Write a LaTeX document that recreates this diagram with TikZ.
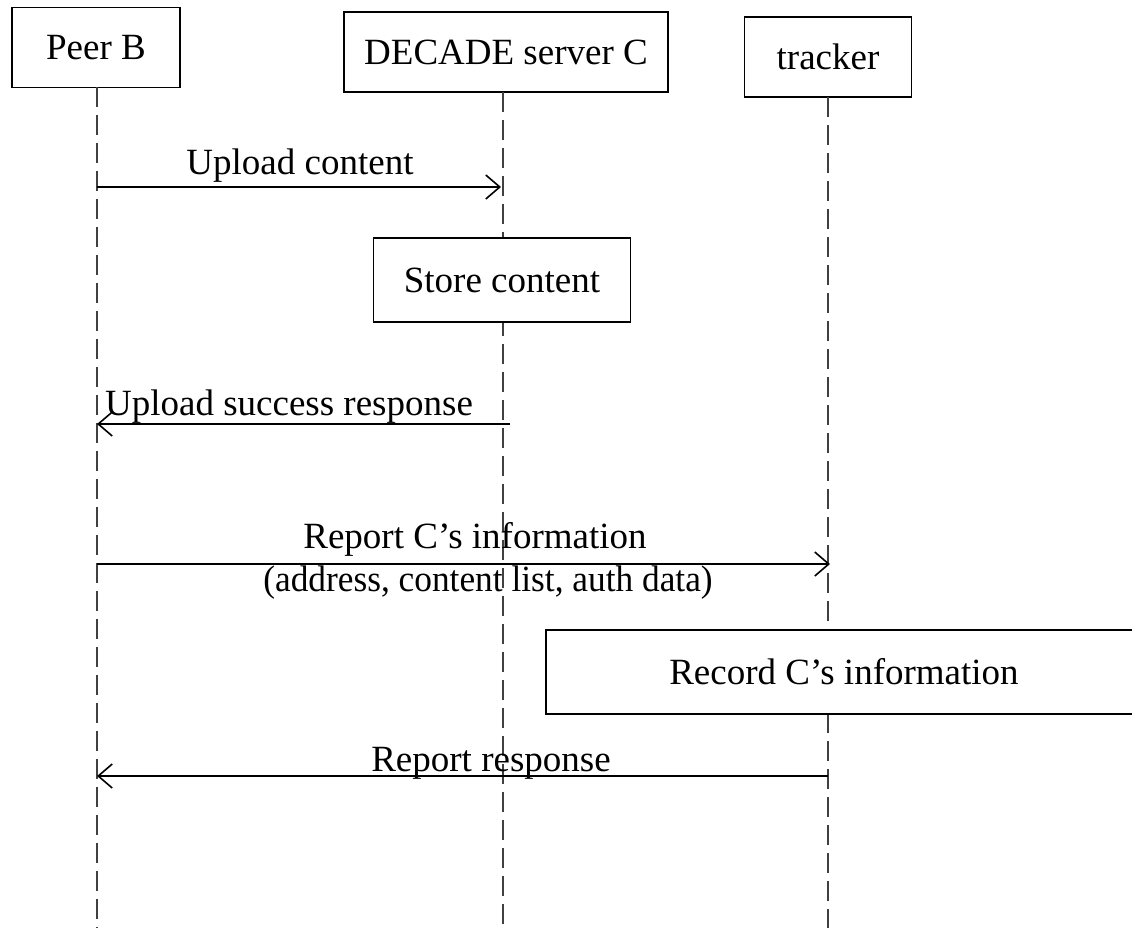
\documentclass[tikz,border=0pt]{standalone}
\usepackage{fontspec}
\setmainfont{Liberation Serif}
\usetikzlibrary{arrows.meta}

\begin{document}
\begin{tikzpicture}[x=1pt,y=-1pt,font=\fontsize{37}{44}\selectfont,
  box/.style={draw,line width=1.6pt,fill=white,inner sep=0pt,minimum height=80pt},
  life/.style={line width=1.6pt,black!75,dash pattern=on 20pt off 8pt},
  msg/.style={line width=1.6pt,-{Straight Barb[length=14pt,width=24pt,line width=1.6pt]}}]
\clip (0,0) rectangle (1132,927);
\fill[white] (0,0) rectangle (1132,927);
% actors
\node (B) [box,minimum width=168pt] at (96,47.5) {Peer B};
\node (C) [box,minimum width=324pt] at (506,52) {DECADE server C};
\node (T) [box,minimum width=167pt] at (828,57) {tracker};
% lifelines
\coordinate (Bend) at (97,935);
\coordinate (Cend) at (503,935);
\coordinate (Tend) at (828,935);
\draw[life] (97,87) -- (Bend);
\draw[life] (503,92) -- (Cend);
\draw[life] (828,97) -- (Tend);
% steps
\node (S) [box,minimum width=257pt,minimum height=84pt] at (502,280) {Store content};
\node (R) [box,minimum width=596pt,minimum height=84pt] at (844,672) {Record C's information};
% messages
\coordinate (b1) at (97,187);  \coordinate (c1) at (501,187);
\coordinate (c2) at (510,424); \coordinate (b2) at (97,424);
\coordinate (b3) at (97,564);  \coordinate (t3) at (830,564);
\coordinate (t4) at (828,776); \coordinate (b4) at (97,776);
\draw[msg] (b1) -- (c1);
\draw[msg] (c2) -- (b2);
\draw[msg] (b3) -- (t3);
\draw[msg] (t4) -- (b4);
\node (l1) [anchor=base] at (300,174) {Upload content};
\node (l2) [anchor=base] at (289,415) {Upload success response};
\node (l3) [anchor=base] at (475,548) {Report C's information};
\node (l3b) [anchor=base] at (488,591) {\scalebox{0.955}[1]{(address, content list, auth data)}};
\node (l4) [anchor=base] at (491,771) {Report response};
\end{tikzpicture}
\end{document}
